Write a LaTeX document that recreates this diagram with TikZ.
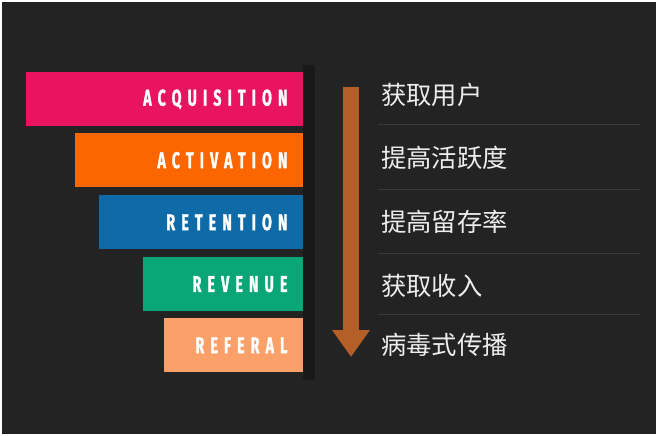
\documentclass[tikz,border=0pt]{standalone}
\usepackage{fontspec}
\usepackage{tikz}
\usetikzlibrary{positioning,arrows.meta}
\newfontfamily\cnfont{Noto Sans CJK SC}
\newfontfamily\barfont[FakeStretch=0.62,LetterSpace=27,FakeBold=1.2]{Fira Sans}
\definecolor{bgdark}{RGB}{35,35,35}
\definecolor{acqpink}{RGB}{232,20,95}
\definecolor{actorange}{RGB}{252,102,0}
\definecolor{retblue}{RGB}{14,107,168}
\definecolor{revgreen}{RGB}{10,166,120}
\definecolor{refpeach}{RGB}{252,160,105}
\definecolor{arrbrown}{RGB}{180,94,40}
\definecolor{seplight}{RGB}{58,58,58}
\tikzstyle{bar}=[anchor=north east, minimum height=16.2mm, inner xsep=4.6mm, inner ysep=0pt, align=right, text=white, font=\barfont\bfseries\fontsize{19.5pt}{19.5pt}\selectfont]
\tikzstyle{cn}=[anchor=west, inner sep=0pt, text=white!93!black, font=\cnfont\fontsize{21.6pt}{21.6pt}\selectfont]
\tikzstyle{sep}=[seplight, line width=0.8pt]

\begin{document}
\begin{tikzpicture}[x=0.3mm,y=-0.3mm]
	\fill[white] (0,0) rectangle (657,435);
	\fill[bgdark] (2,2) rectangle (656,434);
	% funnel bars
	\node[bar, fill=acqpink, text width=73.9mm] (acq) at (303,72) {ACQUISITION};
	\node[bar, fill=actorange, text width=59.2mm] (act) at (303,133) {ACTIVATION};
	\node[bar, fill=retblue, text width=52.0mm] (ret) at (303,195) {RETENTION};
	\node[bar, fill=revgreen, text width=38.8mm] (rev) at (303,257) {REVENUE};
	\node[bar, fill=refpeach, text width=32.5mm] (ref) at (303,318) {REFERAL};
	\fill[black!90] (303,65) rectangle (315,380);
	% arrow
	\coordinate (top) at (351,87);
	\coordinate (tip) at (351,357);
	\draw[arrbrown, line width=4.8mm, -{Triangle[width=10.8mm,length=8.1mm]}] (top) -- (tip);
	% labels
	\node[cn] (l1) at (381,95) {获取用户};
	\node[cn] (l2) at (381,158) {提高活跃度};
	\node[cn] (l3) at (381,222) {提高留存率};
	\node[cn] (l4) at (381,286) {获取收入};
	\node[cn] (l5) at (381,345) {病毒式传播};
	\coordinate (s1a) at (378,124); \coordinate (s1b) at (640,124);
	\coordinate (s2a) at (378,189); \coordinate (s2b) at (640,189);
	\coordinate (s3a) at (378,253); \coordinate (s3b) at (640,253);
	\coordinate (s4a) at (378,314); \coordinate (s4b) at (640,314);
	\draw[sep] (s1a) -- (s1b);
	\draw[sep] (s2a) -- (s2b);
	\draw[sep] (s3a) -- (s3b);
	\draw[sep] (s4a) -- (s4b);
\end{tikzpicture}
\end{document}
